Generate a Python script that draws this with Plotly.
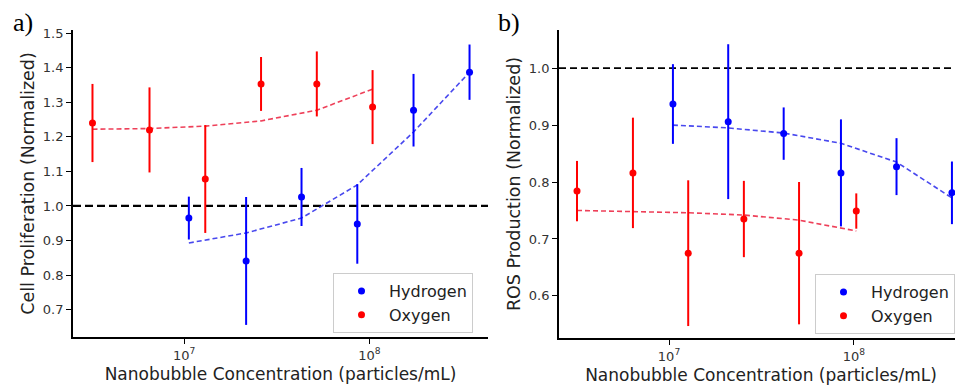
import plotly.graph_objects as go

# ---------------- data ----------------
# Panel a) Cell proliferation
a_h2_conc = [1.06e7, 2.16e7, 4.3e7, 8.6e7, 1.73e8, 3.47e8]
a_h2_val = [0.965, 0.841, 1.026, 0.948, 1.277, 1.387]
a_h2_err = [0.062, 0.185, 0.084, 0.115, 0.105, 0.080]
a_h2_fit = [0.893, 0.922, 0.965, 1.061, 1.214, 1.387]

a_o2_conc = [3.2e6, 6.5e6, 1.3e7, 2.6e7, 5.2e7, 1.04e8]
a_o2_val = [1.240, 1.220, 1.078, 1.353, 1.353, 1.286]
a_o2_err = [0.113, 0.123, 0.156, 0.078, 0.094, 0.107]
a_o2_fit = [1.222, 1.224, 1.231, 1.246, 1.277, 1.338]

# Panel b) ROS production
b_h2_conc = [1.05e7, 2.09e7, 4.17e7, 8.51e7, 1.70e8, 3.39e8]
b_h2_val = [0.937, 0.906, 0.885, 0.816, 0.827, 0.781]
b_h2_err = [0.070, 0.136, 0.046, 0.094, 0.050, 0.055]
b_h2_fit = [0.900, 0.895, 0.886, 0.868, 0.835, 0.772]

b_o2_conc = [3.18e6, 6.38e6, 1.27e7, 2.54e7, 5.05e7, 1.03e8]
b_o2_val = [0.784, 0.816, 0.675, 0.735, 0.675, 0.749]
b_o2_err = [0.053, 0.097, 0.128, 0.067, 0.125, 0.031]
b_o2_fit = [0.750, 0.748, 0.746, 0.742, 0.733, 0.714]

reference_level = 1.0
x_tick_vals = [1e7, 1e8]
x_tick_text = ["10<sup>7</sup>", "10<sup>8</sup>"]
a_y_ticks = [0.7, 0.8, 0.9, 1.0, 1.1, 1.2, 1.3, 1.4, 1.5]
b_y_ticks = [0.6, 0.7, 0.8, 0.9, 1.0]
series_names = ["Hydrogen", "Oxygen"]
panel_labels = ["a)", "b)"]
x_title = "Nanobubble Concentration (particles/mL)"
a_y_title = "Cell Proliferation (Normalized)"
b_y_title = "ROS Production (Normalized)"

# ---------------- styling ----------------
BLUE = "#0000ff"
RED = "#ff0000"
BLUE_FIT = "rgba(40,40,235,0.85)"
RED_FIT = "rgba(235,30,60,0.85)"
FONT = "DejaVu Sans"
OFF = 8                      # page body margin offset
W, H = 963 - OFF, 385 - OFF  # figure size so it fills the window


def px(p):
    """page x pixel -> paper fraction"""
    return (p - OFF) / W


def py(p):
    """page y pixel (from top) -> paper fraction"""
    return 1 - (p - OFF) / H


fig = go.Figure()


def add_panel(xa, ya, h_c, h_v, h_e, h_f, o_c, o_v, o_e, o_f, legend):
    fig.add_trace(go.Scatter(x=o_c, y=o_f, mode="lines", xaxis=xa, yaxis=ya,
                             line=dict(color=RED_FIT, width=1.6, dash="5px,3px"),
                             showlegend=False, hoverinfo="skip", cliponaxis=False))
    fig.add_trace(go.Scatter(x=h_c, y=h_f, mode="lines", xaxis=xa, yaxis=ya,
                             line=dict(color=BLUE_FIT, width=1.6, dash="5px,3px"),
                             showlegend=False, hoverinfo="skip", cliponaxis=False))
    fig.add_trace(go.Scatter(x=h_c, y=h_v, mode="markers", xaxis=xa, yaxis=ya,
                             name=series_names[0], legend=legend,
                             legendgroup=legend + "h", cliponaxis=False,
                             marker=dict(color=BLUE, size=7),
                             error_y=dict(type="data", array=h_e, visible=True,
                                          color=BLUE, thickness=2, width=0)))
    fig.add_trace(go.Scatter(x=o_c, y=o_v, mode="markers", xaxis=xa, yaxis=ya,
                             name=series_names[1], legend=legend,
                             legendgroup=legend + "o", cliponaxis=False,
                             marker=dict(color=RED, size=7),
                             error_y=dict(type="data", array=o_e, visible=True,
                                          color=RED, thickness=2, width=0)))


add_panel("x", "y", a_h2_conc, a_h2_val, a_h2_err, a_h2_fit,
          a_o2_conc, a_o2_val, a_o2_err, a_o2_fit, "legend")
add_panel("x2", "y2", b_h2_conc, b_h2_val, b_h2_err, b_h2_fit,
          b_o2_conc, b_o2_val, b_o2_err, b_o2_fit, "legend2")

fig.add_shape(type="line", xref="x domain", yref="y", x0=0, x1=1,
              y0=reference_level, y1=reference_level,
              line=dict(color="black", width=2.2, dash="8px,4px"), layer="below")
fig.add_shape(type="line", xref="x2 domain", yref="y2", x0=0, x1=1,
              y0=reference_level, y1=reference_level,
              line=dict(color="black", width=1.8, dash="7px,4px"), layer="below")

axis_common = dict(showline=True, linecolor="black", linewidth=1.8, mirror=False,
                   showgrid=False, zeroline=False, ticks="outside", ticklen=5,
                   tickwidth=1.2, tickcolor="black", automargin=False,
                   tickfont=dict(family=FONT, size=13, color="#333333"))
title_font = dict(family=FONT, size=17, color="#222")
ytitle_font = dict(family=FONT, size=17.5, color="#222")
legend_common = dict(xanchor="left", yanchor="top", bgcolor="white",
                     bordercolor="#cccccc", borderwidth=1, itemwidth=45,
                     font=dict(family=FONT, size=16, color="#222"), tracegroupgap=0)

fig.update_layout(
    width=W, height=H,
    margin=dict(l=0, r=0, t=0, b=0, autoexpand=False),
    paper_bgcolor="white", plot_bgcolor="white",
    font=dict(family=FONT, size=14, color="#222222"),
    xaxis=dict(type="log", domain=[px(73), px(488)], range=[6.40, 8.64],
               tickvals=x_tick_vals, ticktext=x_tick_text, anchor="y",
               title=dict(text=x_title, font=title_font, standoff=7),
               **axis_common),
    yaxis=dict(domain=[py(337), py(30)], range=[0.621, 1.509], tickvals=a_y_ticks,
               tickformat=".1f", anchor="x",
               title=dict(text=a_y_title, font=ytitle_font, standoff=4),
               **axis_common),
    xaxis2=dict(type="log", domain=[px(559), 1.0], range=[6.405, 8.59],
                tickvals=x_tick_vals, ticktext=x_tick_text, anchor="y2",
                title=dict(text=x_title, font=title_font, standoff=7),
                **axis_common),
    yaxis2=dict(domain=[py(338), py(30)], range=[0.526, 1.067], tickvals=b_y_ticks,
                tickformat=".1f", anchor="x2",
                title=dict(text=b_y_title, font=ytitle_font, standoff=4),
                **axis_common),
    legend=dict(x=px(333), y=py(273), **legend_common),
    legend2=dict(x=px(815), y=py(274), **legend_common),
)

fig.add_annotation(x=px(23), y=py(22), xref="paper", yref="paper",
                   xanchor="center", yanchor="middle",
                   text=panel_labels[0], showarrow=False,
                   font=dict(family="Liberation Serif", size=26, color="black"))
fig.add_annotation(x=px(509), y=py(22), xref="paper", yref="paper",
                   xanchor="center", yanchor="middle",
                   text=panel_labels[1], showarrow=False,
                   font=dict(family="Liberation Serif", size=26, color="black"))

fig.write_html("out.html")
